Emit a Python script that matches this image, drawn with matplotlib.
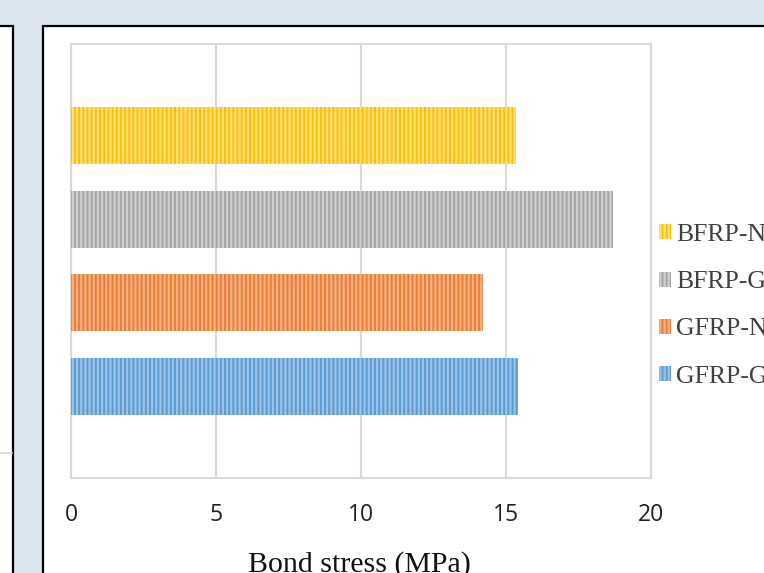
import matplotlib
matplotlib.use("Agg")
import matplotlib.pyplot as plt
from matplotlib.patches import Rectangle
from matplotlib.lines import Line2D

# Bond stress of each bar/concrete combination (MPa)
series = ["GFRP-GP", "GFRP-NC", "BFRP-GP", "BFRP-NC"]
bond_stress = [15.4, 14.2, 18.7, 15.35]
bar_colors = ["#5B9BD5", "#ED7D31", "#A5A5A5", "#FFC000"]
stripe_colors = ["#9DC3E6", "#F4B183", "#D0D0D0", "#FFE07F"]
x_ticks = [0, 5, 10, 15, 20]
x_label = "Bond stress (MPa)"

W, H = 764, 573
tick_font = "Open Sans"
serif_font = "Liberation Serif"

plt.rcParams["hatch.linewidth"] = 1.6
fig = plt.figure(figsize=(W / 100, H / 100), dpi=100)
fig.patch.set_facecolor("#DCE6F1")

def px(x, y):
    return x / W, 1 - y / H

# window panels behind the chart
left_panel = Rectangle(px(-10, 600), (10 + 13) / W, (600 - 26) / H,
                       transform=fig.transFigure, facecolor="white",
                       edgecolor="black", linewidth=1.6, zorder=-2)
right_panel = Rectangle(px(43, 600), (800 - 43) / W, (600 - 26) / H,
                        transform=fig.transFigure, facecolor="white",
                        edgecolor="black", linewidth=1.6, zorder=-2)
fig.add_artist(left_panel)
fig.add_artist(right_panel)
fig.add_artist(Line2D([0, 12 / W], [1 - 453 / H] * 2, transform=fig.transFigure,
                      color="#D9D9D9", linewidth=1.2, zorder=-1))

x0, y0 = px(71, 478)
x1, y1 = px(651, 44)
ax = fig.add_axes([x0, y0, x1 - x0, y1 - y0])

positions = list(range(len(series)))
handles = []
for pos, val, col, sc, name in zip(positions, bond_stress, bar_colors, stripe_colors, series):
    b = ax.barh(pos, val, height=0.68, color=col, edgecolor=sc, hatch="||||",
                linewidth=0, label=name, zorder=3)
    handles.append(b)

ax.set_xlim(0, 20)
ax.set_ylim(-1.09, 4.09)
ax.set_xticks(x_ticks)
ax.set_yticks([])
ax.grid(axis="x", color="#D9D9D9", linewidth=1.5, zorder=0)
ax.set_axisbelow(True)
for s in ax.spines.values():
    s.set_color("#D9D9D9")
    s.set_linewidth(1.5)
ax.tick_params(axis="x", length=0, pad=18, labelsize=16.5, labelcolor="#202020")
for lab in ax.get_xticklabels():
    lab.set_fontfamily(tick_font)

fig.text(359 / W, 1 - 572 / H, x_label, ha="center", va="baseline",
         fontsize=21.5, family=serif_font, color="#111111")

fig.legend(handles=handles[::-1], labels=series[::-1], loc="upper left",
           bbox_to_anchor=px(659, 224), frameon=False, borderpad=0,
           borderaxespad=0, handlelength=0.47, handleheight=0.52,
           handletextpad=0.2, labelspacing=0.98,
           prop={"family": serif_font, "size": 18.5}, labelcolor="#404040")

fig.savefig("out.png", dpi=100)
